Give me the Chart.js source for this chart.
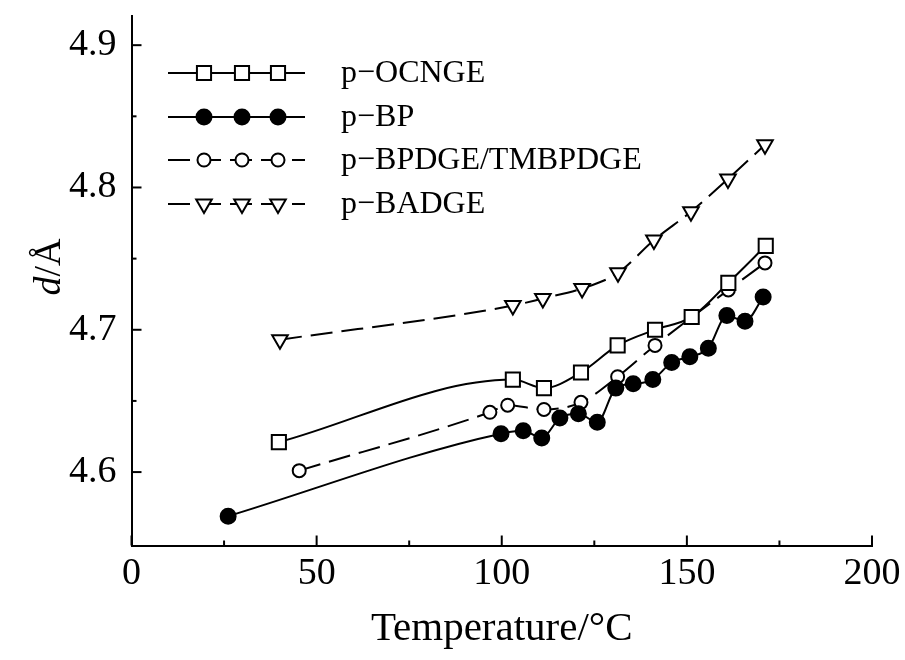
<!DOCTYPE html>
<html>
<head>
<meta charset="utf-8">
<script src="https://cdn.jsdelivr.net/npm/chart.js@4/dist/chart.umd.min.js"></script>
<style>
  html, body { margin: 0; padding: 0; background: #fff; }
  #wrap { width: 905px; height: 660px; position: relative; }
</style>
</head>
<body>
<div id="wrap"><canvas id="chart1"></canvas></div>
<script>
// Дані: температура (°C) та міжплощинна відстань d (Å)
const seriesNames = ['p\u2212OCNGE', 'p\u2212BP', 'p\u2212BPDGE/TMBPDGE', 'p\u2212BADGE'];

const ocngeT = [39.8, 103.0, 111.4, 121.4, 131.3, 141.4, 151.3, 161.2, 171.3];
const ocngeD = [4.621, 4.665, 4.659, 4.670, 4.689, 4.700, 4.709, 4.733, 4.759];

const bpT = [26.1, 99.8, 105.8, 110.8, 115.7, 120.7, 125.8, 130.8, 135.5, 140.8, 145.9, 150.8, 155.8, 160.8, 165.7, 170.6];
const bpD = [4.569, 4.627, 4.629, 4.624, 4.638, 4.641, 4.635, 4.659, 4.662, 4.665, 4.677, 4.681, 4.687, 4.710, 4.706, 4.723];

const bpdgeT = [45.3, 96.8, 101.6, 111.4, 121.4, 131.3, 141.4, 161.2, 171.1];
const bpdgeD = [4.601, 4.642, 4.647, 4.644, 4.649, 4.667, 4.689, 4.728, 4.747];

const badgeT = [40.1, 103.0, 111.1, 121.7, 131.4, 141.1, 151.1, 161.1, 171.1];
const badgeD = [4.693, 4.717, 4.722, 4.729, 4.740, 4.763, 4.783, 4.806, 4.830];

const xTicks = [0, 50, 100, 150, 200];
const xMinor = [25, 75, 125, 175];
const yTicks = [4.6, 4.7, 4.8, 4.9];
const yMinor = [4.65, 4.75, 4.85];

const SERIF = '"Liberation Serif", "DejaVu Serif", serif';
const DASH = [22, 9];

function toPoints(xs, ys) {
  return xs.map((x, i) => ({ x: x, y: ys[i] }));
}

// Ручна легенда, засічки та підпис осі Y
const decorPlugin = {
  id: 'decor',
  afterDraw(chart) {
    const ctx = chart.ctx;
    const xs = chart.scales.x;
    const ys = chart.scales.y;
    const area = chart.chartArea;

    ctx.save();
    ctx.strokeStyle = '#000';
    ctx.lineWidth = 2;
    // засічки всередину
    xTicks.forEach(v => {
      const px = xs.getPixelForValue(v);
      ctx.beginPath(); ctx.moveTo(px, area.bottom); ctx.lineTo(px, area.bottom - 10); ctx.stroke();
    });
    xMinor.forEach(v => {
      const px = xs.getPixelForValue(v);
      ctx.beginPath(); ctx.moveTo(px, area.bottom); ctx.lineTo(px, area.bottom - 5); ctx.stroke();
    });
    yTicks.forEach(v => {
      const py = ys.getPixelForValue(v);
      ctx.beginPath(); ctx.moveTo(area.left, py); ctx.lineTo(area.left + 10, py); ctx.stroke();
    });
    yMinor.forEach(v => {
      const py = ys.getPixelForValue(v);
      ctx.beginPath(); ctx.moveTo(area.left, py); ctx.lineTo(area.left + 5, py); ctx.stroke();
    });

    // підпис осі Y: d/Å (d курсивом)
    ctx.fillStyle = '#000';
    ctx.translate(48, 267);
    ctx.rotate(-Math.PI / 2);
    ctx.textBaseline = 'alphabetic';
    ctx.textAlign = 'left';
    ctx.font = 'italic 38px ' + SERIF;
    const dW = ctx.measureText('d').width;
    ctx.font = '38px ' + SERIF;
    const restW = ctx.measureText('/\u00C5').width;
    const startX = -(dW + restW) / 2;
    ctx.font = 'italic 38px ' + SERIF;
    ctx.fillText('d', startX, 12);
    ctx.font = '38px ' + SERIF;
    ctx.fillText('/\u00C5', startX + dW, 12);
    ctx.restore();

    // легенда
    const rows = [73, 117, 160, 204];
    const marks = [204, 242, 278];
    ctx.save();
    chart.data.datasets.forEach((ds, i) => {
      const y = rows[i];
      ctx.strokeStyle = '#000';
      ctx.lineWidth = 2;
      ctx.setLineDash(ds.borderDash || []);
      ctx.beginPath(); ctx.moveTo(168, y); ctx.lineTo(305, y); ctx.stroke();
      ctx.setLineDash([]);
      marks.forEach(mx => {
        ctx.fillStyle = ds.pointBackgroundColor;
        ctx.strokeStyle = '#000';
        ctx.lineWidth = ds.pointBorderWidth;
        Chart.helpers.drawPoint(ctx, {
          pointStyle: ds.pointStyle,
          rotation: ds.pointRotation || 0,
          radius: ds.pointRadius,
          borderWidth: ds.pointBorderWidth
        }, mx, y);
      });
      ctx.fillStyle = '#000';
      ctx.font = '32px ' + SERIF;
      ctx.textBaseline = 'middle';
      ctx.textAlign = 'left';
      ctx.fillText(ds.label, 341, y + 1);
    });
    ctx.restore();
  }
};

function initChart() {
  const ctx = document.getElementById('chart1').getContext('2d');

  const base = {
    borderColor: '#000',
    borderWidth: 2,
    pointBorderColor: '#000',
    pointBorderWidth: 2,
    cubicInterpolationMode: 'monotone',
    fill: false
  };

  const data = {
    datasets: [
      Object.assign({}, base, {
        label: seriesNames[0], data: toPoints(ocngeT, ocngeD),
        pointStyle: 'rect', pointRadius: 10, pointBackgroundColor: '#fff'
      }),
      Object.assign({}, base, {
        label: seriesNames[1], data: toPoints(bpT, bpD),
        pointStyle: 'circle', pointRadius: 7.5, pointBackgroundColor: '#000'
      }),
      Object.assign({}, base, {
        label: seriesNames[2], data: toPoints(bpdgeT, bpdgeD), borderDash: DASH,
        pointStyle: 'circle', pointRadius: 6.5, pointBackgroundColor: '#fff'
      }),
      Object.assign({}, base, {
        label: seriesNames[3], data: toPoints(badgeT, badgeD), borderDash: DASH,
        pointStyle: 'triangle', pointRotation: 180, pointRadius: 9, pointBackgroundColor: '#fff'
      })
    ]
  };

  const config = {
    type: 'line',
    data: data,
    plugins: [decorPlugin],
    options: {
      responsive: true,
      maintainAspectRatio: false,
      animation: false,
      layout: { padding: { left: 0, right: 33, top: 16, bottom: 0 } },
      plugins: {
        legend: { display: false },
        tooltip: { enabled: false }
      },
      scales: {
        x: {
          type: 'linear',
          min: 0, max: 200,
          afterBuildTicks: s => { s.ticks = xTicks.map(v => ({ value: v })); },
          afterFit: s => { s.height = 114.5; s.paddingLeft = 0; s.paddingRight = 0; },
          grid: { display: false, drawTicks: false },
          border: { display: true, color: '#000', width: 2 },
          ticks: { color: '#000', padding: 6, font: { family: SERIF, size: 38 }, maxRotation: 0 },
          title: {
            display: true, text: 'Temperature/\u00B0C', color: '#000',
            font: { family: SERIF, size: 41 }, padding: { top: 0, bottom: 6 }
          }
        },
        y: {
          min: 4.5484, max: 4.9205,
          afterBuildTicks: s => { s.ticks = yTicks.map(v => ({ value: v })); },
          afterFit: s => { s.width = 131.5; s.paddingTop = 0; s.paddingBottom = 0; },
          grid: { display: false, drawTicks: false },
          border: { display: true, color: '#000', width: 2 },
          ticks: { color: '#000', padding: 15, font: { family: SERIF, size: 38 },
                   callback: v => v.toFixed(1) }
        }
      }
    }
  };

  new Chart(ctx, config);
}

document.addEventListener('DOMContentLoaded', () => {
  initChart();
});
</script>
</body>
</html>
